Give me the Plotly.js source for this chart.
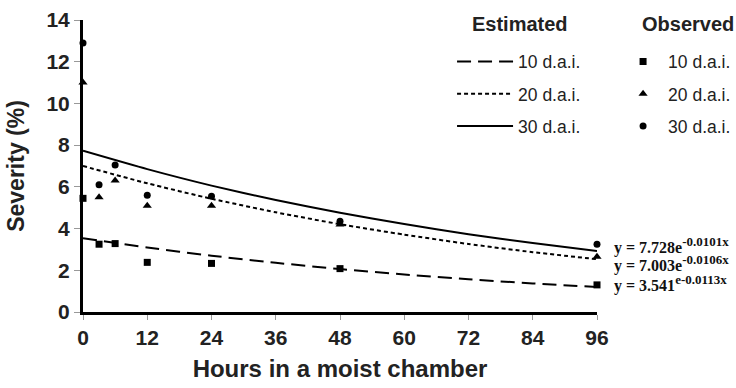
<!DOCTYPE html>
<html>
<head>
<meta charset="utf-8">
<script src="https://cdn.plot.ly/plotly-3.0.1.min.js"></script>
<style>html,body{margin:0;padding:0;background:#fff;}#chart{width:736px;height:388px;}</style>
</head>
<body>
<div id="chart"></div>
<script>
// Observed data (hours in moist chamber vs severity %)
var obsHours = [0, 3, 6, 12, 24, 48, 96];
var obs10 = [5.45, 3.25, 3.28, 2.38, 2.33, 2.08, 1.3];
var obs20 = [11.0, 5.5, 6.3, 5.1, 5.1, 4.2, 2.65];
var obs30 = [12.9, 6.1, 7.05, 5.6, 5.55, 4.35, 3.25];

// Estimated curves read at the axis ticks
var estHours = [0, 12, 24, 36, 48, 60, 72, 84, 96];
var est10 = [3.54, 3.09, 2.70, 2.36, 2.06, 1.80, 1.57, 1.37, 1.20];
var est20 = [7.00, 6.17, 5.43, 4.78, 4.21, 3.71, 3.26, 2.87, 2.53];
var est30 = [7.73, 6.85, 6.06, 5.37, 4.76, 4.22, 3.73, 3.31, 2.93];

var seriesLabels = ['10 d.a.i.', '20 d.a.i.', '30 d.a.i.'];
var eqCoef = ['7.728e', '7.003e', '3.541'];
var eqExp = ['-0.0101x', '-0.0106x', 'e-0.0113x'];
var eqY = [3.2, 2.34, 1.39];
var xTicks = [0, 12, 24, 36, 48, 60, 72, 84, 96];

var lineStyles = ['14px,7px', '4px,3px', 'solid'];
var estSeries = [est10, est20, est30];
var obsSeries = [obs10, obs20, obs30];
var symbols = ['square', 'triangle-up', 'circle'];
var msizes = [7, 8, 7];

var traces = [];
for (var i = 0; i < 3; i++) {
  traces.push({
    x: estHours, y: estSeries[i], type: 'scatter', mode: 'lines',
    name: seriesLabels[i], legend: 'legend', legendgroup: 'e' + i,
    line: {color: '#000', width: 2, dash: lineStyles[i], shape: 'spline', smoothing: 0.6},
    cliponaxis: false, hoverinfo: 'skip'
  });
}
for (var j = 0; j < 3; j++) {
  traces.push({
    x: obsHours, y: obsSeries[j], type: 'scatter', mode: 'markers',
    name: seriesLabels[j], legend: 'legend2', legendgroup: 'o' + j,
    marker: {color: '#000', symbol: symbols[j], size: msizes[j]},
    cliponaxis: false
  });
}

var annotations = [
  {text: '<b>Estimated</b>', xref: 'paper', yref: 'paper', x: 0.850, y: 0.986, xanchor: 'center', yanchor: 'middle', showarrow: false,
   font: {family: 'Liberation Sans, Arial', size: 20, color: '#222'}},
  {text: '<b>Observed</b>', xref: 'paper', yref: 'paper', x: 1.177, y: 0.986, xanchor: 'center', yanchor: 'middle', showarrow: false,
   font: {family: 'Liberation Sans, Arial', size: 20, color: '#222'}}
];
for (var k = 0; k < 3; k++) {
  annotations.push({
    text: '<b>y = ' + eqCoef[k] + '<sup><span style="font-size:13px">' + eqExp[k] + '</span></sup></b>',
    xref: 'x', yref: 'y', x: 96, y: eqY[k],
    xanchor: 'left', xshift: 15, showarrow: false,
    font: {family: 'Liberation Serif, Times New Roman', size: 16, color: '#111'}
  });
}

var layout = {
  width: 736, height: 388,
  margin: {l: 83, r: 139, t: 20, b: 76, autoexpand: false},
  paper_bgcolor: '#fff', plot_bgcolor: '#fff',
  showlegend: true,
  xaxis: {
    range: [0, 96], tickvals: xTicks, ticks: 'outside', ticklen: 5, tickwidth: 1, tickcolor: '#999',
    showline: true, linewidth: 3, linecolor: '#000', showgrid: false, zeroline: false,
    tickfont: {family: 'Liberation Sans, Arial', size: 21, color: '#222', weight: 'bold'},
    title: {text: '<b>Hours in a moist chamber</b>', standoff: 12,
            font: {family: 'Liberation Sans, Arial', size: 24, color: '#222'}}
  },
  yaxis: {
    range: [0, 14], dtick: 2, ticks: 'outside', ticklen: 6, tickwidth: 1, tickcolor: '#999',
    showline: true, linewidth: 3, linecolor: '#000', showgrid: false, zeroline: false,
    tickfont: {family: 'Liberation Sans, Arial', size: 21, color: '#222', weight: 'bold'},
    title: {text: '<b>Severity (%)</b>', standoff: 16,
            font: {family: 'Liberation Sans, Arial', size: 23, color: '#222'}}
  },
  legend: {
    x: 0.718, y: 0.919, xanchor: 'left', yanchor: 'top', bgcolor: 'rgba(0,0,0,0)',
    font: {family: 'Liberation Sans, Arial', size: 17.5, color: '#222'},
    tracegroupgap: 6.5, itemwidth: 56
  },
  legend2: {
    x: 1.041, y: 0.919, xanchor: 'left', yanchor: 'top', bgcolor: 'rgba(0,0,0,0)',
    font: {family: 'Liberation Sans, Arial', size: 17.5, color: '#222'},
    tracegroupgap: 6.5, itemwidth: 40
  },
  annotations: annotations
};

Plotly.newPlot('chart', traces, layout, {displayModeBar: false, staticPlot: true});
</script>
</body>
</html>
